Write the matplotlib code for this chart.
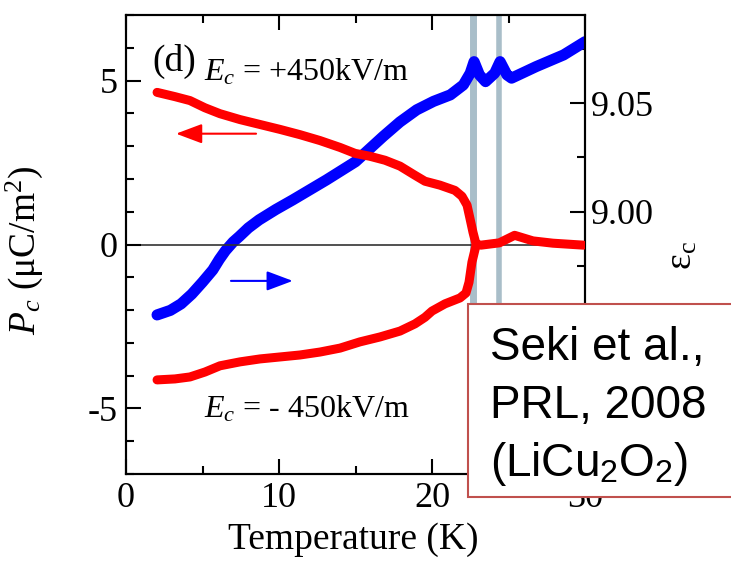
import matplotlib
matplotlib.use('Agg')
matplotlib.rcParams.update({
    'font.family': 'serif',
    'font.serif': ['Liberation Serif', 'DejaVu Serif'],
    'mathtext.fontset': 'custom',
    'mathtext.rm': 'Liberation Serif',
    'mathtext.it': 'Liberation Serif:italic',
    'mathtext.bf': 'Liberation Serif:bold',
    'mathtext.sf': 'Liberation Sans',
    'axes.unicode_minus': False,
    'xtick.direction': 'in',
    'ytick.direction': 'in',
})
import matplotlib.pyplot as plt
from matplotlib.patches import Rectangle
from matplotlib.ticker import MultipleLocator, FixedLocator

# red: P_c (uC/m^2), left axis
t_pos = [2.03, 3.2, 4.18, 5.16, 6.14, 7.45, 8.76, 10.07, 11.37, 12.68, 13.99, 14.97, 15.95,
         16.93, 17.91, 18.89, 19.54, 20.52, 21.5, 21.96, 22.29, 22.48, 22.68, 22.88,
         23.2, 24.4, 25.4, 26.6, 27.9, 29.9]
p_pos = [4.64, 4.51, 4.39, 4.17, 3.99, 3.81, 3.66, 3.51, 3.35, 3.17, 2.96, 2.78, 2.69,
         2.57, 2.39, 2.11, 1.93, 1.81, 1.65, 1.47, 1.20, 0.80, 0.37, 0.01,
         -0.02, 0.05, 0.28, 0.11, 0.04, -0.02]
t_neg = [2.03, 3.2, 4.18, 5.16, 6.14, 7.45, 8.76, 10.07, 11.37, 12.68, 13.99, 15.29, 16.6,
         17.91, 18.89, 19.54, 20.0, 20.85, 21.83, 22.22, 22.42, 22.61, 22.88]
p_neg = [-4.13, -4.10, -4.04, -3.89, -3.70, -3.58, -3.49, -3.43, -3.37, -3.28, -3.16, -2.97,
         -2.82, -2.64, -2.42, -2.22, -2.03, -1.81, -1.63, -1.48, -1.15, -0.54, -0.02]

# blue: eps_c, right axis
t_eps = [2.03, 2.9, 3.6, 4.3, 5.0, 5.67, 6.1, 6.5, 7.0, 7.4, 8.0, 8.7, 9.8, 10.9, 13.1,
         15.0, 16.8, 17.9, 19.0, 20.1, 21.2, 22.05, 22.5, 22.75, 23.1, 23.5, 24.1, 24.45,
         24.9, 25.2, 26.8, 28.6, 30.0]
eps = [8.9524, 8.9545, 8.9575, 8.9620, 8.9675, 8.9731, 8.9780, 8.9820, 8.9860, 8.9885,
       8.9925, 8.9962, 9.0010, 9.0054, 9.0146, 9.0230, 9.0346, 9.0413, 9.0469, 9.0508,
       9.0538, 9.0584, 9.0638, 9.0691, 9.0630, 9.0599, 9.0638, 9.0691, 9.0630, 9.0615,
       9.0668, 9.0722, 9.0783]

# transition temperatures (gray lines)
t_trans = [22.7, 24.4]

RED = '#ff0000'
BLUE = '#0000ff'
GRAY = '#a9bec9'

fig = plt.figure(figsize=(7.31, 5.63), dpi=100)
ax = fig.add_axes([126 / 731, 89 / 563, 459 / 731, 459 / 563])
ax2 = ax.twinx()
ax.set_zorder(ax2.get_zorder() + 1)
ax.patch.set_visible(False)

for t, w in zip(t_trans, [5.0, 4.0]):
    ax2.axvline(t, color=GRAY, lw=w, zorder=0)
ax2.plot(t_eps, eps, color=BLUE, lw=8, solid_capstyle='round', solid_joinstyle='round', zorder=2)

ax.axhline(0, color='#333333', lw=1.2, zorder=1)
ax.plot(t_pos, p_pos, color=RED, lw=6.5, solid_capstyle='round', solid_joinstyle='round', zorder=3)
ax.plot(t_neg, p_neg, color=RED, lw=6.5, solid_capstyle='round', solid_joinstyle='round', zorder=3)

ax.annotate('', xy=(3.27, 3.38), xytext=(8.5, 3.38),
            arrowprops=dict(arrowstyle='-|>,head_length=0.8,head_width=0.3', color=RED,
                            lw=1.5, mutation_scale=20, shrinkA=0, shrinkB=0))
ax.annotate('', xy=(10.9, -1.11), xytext=(6.86, -1.11),
            arrowprops=dict(arrowstyle='-|>,head_length=0.8,head_width=0.3', color=BLUE,
                            lw=1.5, mutation_scale=20, shrinkA=0, shrinkB=0))

ax.text(1.7, 5.3, '(d)', fontsize=27, va='baseline')
ax.text(5.1, 5.0, r'$E_c$ = +450kV/m', fontsize=23, va='baseline')
ax.text(5.1, -5.29, r'$E_c$ = - 450kV/m', fontsize=23, va='baseline')

ax.set_xlim(0, 30)
ax.set_ylim(-7, 7)
ax2.set_ylim(8.8791, 9.0906)

ax.xaxis.set_major_locator(MultipleLocator(10))
ax.xaxis.set_minor_locator(MultipleLocator(5))
ax.yaxis.set_major_locator(MultipleLocator(5))
ax.yaxis.set_minor_locator(MultipleLocator(1))
# lower right-axis labels sit behind the citation box, so only these show
ax2.yaxis.set_major_locator(FixedLocator([9.00, 9.05]))
ax2.yaxis.set_minor_locator(MultipleLocator(0.025))
ax2.yaxis.set_major_formatter(plt.FormatStrFormatter('%.2f'))

ax.tick_params(which='both', top=True, right=False, width=1.5, labelsize=26, pad=6)
ax.tick_params(which='major', length=11)
ax.tick_params(which='minor', length=6)
ax2.tick_params(which='both', width=1.5, labelsize=26, pad=4)
ax2.tick_params(which='major', length=11)
ax2.tick_params(which='minor', length=6)
for a in (ax, ax2):
    for s in a.spines.values():
        s.set_linewidth(1.5)

ax.set_xlabel('Temperature (K)', fontsize=27)
ax.xaxis.set_label_coords(0.495, -0.105)
ax.set_ylabel(r'$P_c$ (μC/m$^2$)', fontsize=27)
ax.yaxis.set_label_coords(-0.176, 0.488)
fig.text(682 / 731, 1 - 256 / 563, r'ε$_{\rm c}$', fontsize=27, rotation=90,
         ha='center', va='center')

# citation box
fig.patches.append(Rectangle((468 / 731, 1 - 497 / 563), 0.4, 193 / 563,
                             transform=fig.transFigure, facecolor='white',
                             edgecolor='#c0504d', lw=1.5, zorder=5))
box_lines = ['Seki et al.,', 'PRL, 2008', r'(LiCu$_\mathsf{2}$O$_\mathsf{2}$)']
for i, line in enumerate(box_lines):
    fig.text(490 / 731, 1 - (360 + 58 * i) / 563, line, family='Liberation Sans',
             fontsize=33, va='baseline', ha='left', zorder=6)

fig.savefig('out.png', dpi=100)
